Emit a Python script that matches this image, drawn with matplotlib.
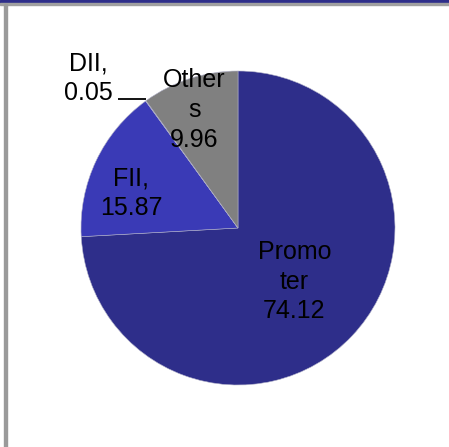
import matplotlib
matplotlib.use("Agg")
import matplotlib.pyplot as plt
import numpy as np
from matplotlib.patches import Rectangle

categories = ["Promoter", "FII", "DII", "Others"]
values = [74.12, 15.87, 0.05, 9.96]
label_text = ["Promo\nter\n74.12", "FII,\n15.87", "DII,\n0.05", "Other\ns\n9.96"]
colors = ["#2E2E8A", "#3A3AB6", "#6C6CD0", "#808080"]

plt.rcParams['font.family'] = ['Liberation Sans', 'DejaVu Sans']

W, H = 449, 447
fig = plt.figure(figsize=(W / 100, H / 100), dpi=100)

# frame decorations
fig.patches.append(Rectangle((0, 1 - 3 / H), 1, 3 / H, transform=fig.transFigure,
                             color="#2E2E8A", zorder=0))
fig.patches.append(Rectangle((0, 1 - 4.5 / H), 1, 1.5 / H, transform=fig.transFigure,
                             color="#A0A0A0", zorder=0))
fig.patches.append(Rectangle((4 / W, 0), 2.5 / W, 1 - 4 / H, transform=fig.transFigure,
                             color="#9A9A9A", zorder=0))

cx, cy, r = 238, 228, 157
ax = fig.add_axes([(cx - r) / W, (H - cy - r) / H, 2 * r / W, 2 * r / H])
wedges, _ = ax.pie(values, colors=colors, startangle=90, counterclock=False,
                   wedgeprops=dict(edgecolor="#B0B0C8", linewidth=0.4))
ax.set_xlim(-1, 1)
ax.set_ylim(-1, 1)
ax.set_aspect("auto")
ax.axis("off")

FS = 18
LS = 1.3
# label anchor (last-line baseline): (radius fraction, angle offset in degrees)
placement = {"Promoter": (0.678, -14.6), "FII": (0.687, 18.5), "Others": (0.587, 10.2)}
for w, cat, txt in zip(wedges, categories, label_text):
    mid = np.deg2rad((w.theta1 + w.theta2) / 2)
    if cat == "DII":
        ex, ey = np.cos(mid), np.sin(mid)
        x0 = ex - 28 / r
        ax.plot([x0, ex], [ey + 1.5 / r, ey + 1.5 / r], color="black", lw=1.3,
                solid_capstyle="butt")
        ax.text(x0 - 5 / r, ey + 1 / r, txt, ha="right", va="baseline",
                multialignment="center", fontsize=FS, color="black",
                linespacing=LS)
        continue
    rad, off = placement[cat]
    a = mid + np.deg2rad(off)
    ax.text(rad * np.cos(a), rad * np.sin(a), txt, ha="center", va="baseline",
            multialignment="center", fontsize=FS, color="black", linespacing=LS)

fig.savefig("out.png", dpi=100)
